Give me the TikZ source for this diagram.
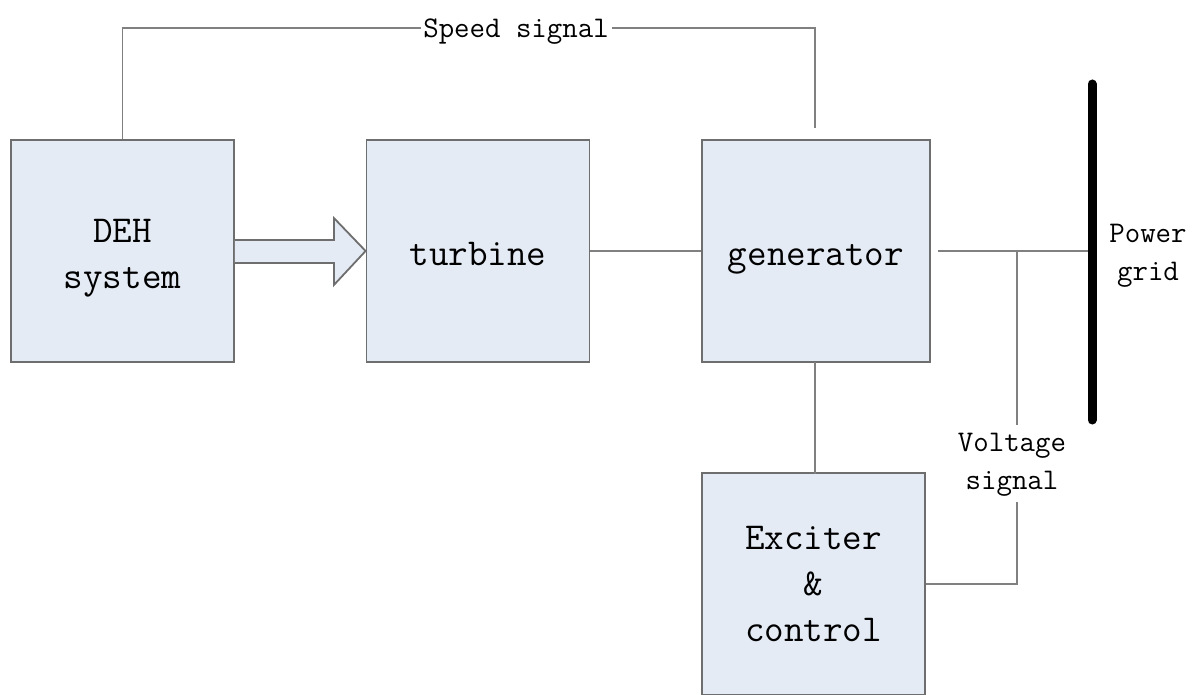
\documentclass[tikz,border=0pt]{standalone}
\usepackage{fontspec}
\usetikzlibrary{calc}
\definecolor{boxfill}{HTML}{E4EBF5}
\definecolor{boxline}{HTML}{6E6E6E}
\definecolor{wire}{HTML}{808080}
\newcommand{\lowtxt}[2]{\raisebox{#1}[\height][\depth]{\begin{tabular}{@{}c@{}}#2\end{tabular}}}
\begin{document}
\begin{tikzpicture}[x=0.5pt,y=-0.5pt,
  blk/.style={draw=boxline,fill=boxfill,line width=0.9pt,minimum width=111.5pt,minimum height=111pt,inner sep=0pt,
    align=center,font=\ttfamily\fontsize{19}{23}\selectfont},
  wireline/.style={draw=wire,line width=0.75pt},
  lbl/.style={font=\ttfamily\fontsize{15}{19}\selectfont,align=center,inner sep=0pt}]
\clip (0,0) rectangle (1199,695);
\fill[white] (0,0) rectangle (1199,695);
% blocks
\node[blk] (deh) at (122.5,251) {\lowtxt{-2.5pt}{DEH\\system}};
\node[blk] (tur) at (478,251) {\lowtxt{-2.5pt}{turbine}};
\node[blk,minimum width=114pt] (gen) at (816,251) {\lowtxt{-2.5pt}{generator}};
\node[blk] (exc) at (813.5,584) {\lowtxt{-1pt}{Exciter\\\&\\control}};
% labels
\node[lbl,anchor=base] (spd) at (516,38) {Speed signal};
\node[lbl] (volt) at (1012,465) {Voltage\\signal};
\node[lbl] (grid) at (1148,256) {Power\\grid};
% coordinates
\coordinate (sl) at (421,28);
\coordinate (sr) at (612,28);
\coordinate (gtop) at (815,128);
\coordinate (gout) at (938,251);
\coordinate (J) at (1017,251);
\coordinate (bt) at (1092,84);
\coordinate (bb) at (1092,420);
\coordinate (bm) at (1092,251);
\coordinate (vt) at (1017,425);
\coordinate (vb) at (1017,502);
\coordinate (gb) at (815,362);
\coordinate (et) at (815,474);
% speed signal
\draw[wireline] (deh.north) |- (sl);
\draw[wireline] (sr) -| (gtop);
% hollow arrow
\draw[draw=boxline,fill=boxfill,line width=0.9pt,line join=miter]
  ($(deh.east)+(0,-11)$) -- ++(99,0) -- ++(0,-22) -- (tur.west) -- ($(deh.east)+(99,34)$) -- ++(0,-22) -- ($(deh.east)+(0,12)$);
% connectors
\draw[wireline] (tur.east) -- (gen.west);
\draw[wireline] (gout) -- (bm);
\draw[wireline] (gb) -- (et);
\draw[wireline] (J) -- (vt);
\draw[wireline] (vb) |- (exc.east);
% bus bar
\draw[black,line width=4.5pt,line cap=round] (bt) -- (bb);
\end{tikzpicture}
\end{document}
